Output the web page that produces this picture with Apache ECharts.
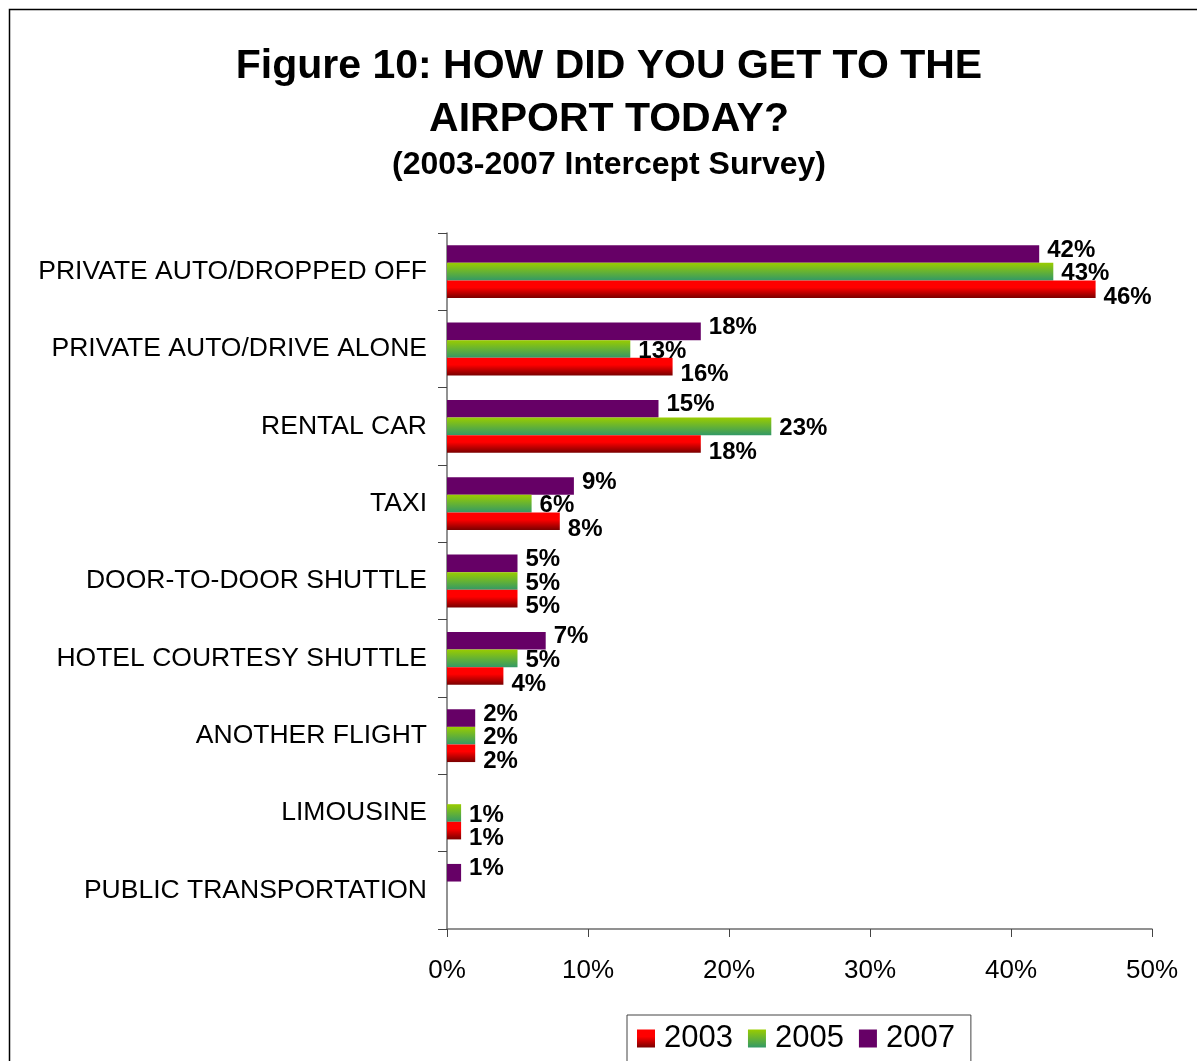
<!DOCTYPE html>
<html>
<head>
<meta charset="utf-8">
<title>How did you get to the airport today?</title>
<script src="https://cdn.jsdelivr.net/npm/echarts@6/dist/echarts.min.js"></script>
<style>
  html, body { margin: 0; padding: 0; background: #fff; }
  #chart { width: 1197px; height: 1061px; }
</style>
</head>
<body>
<div id="chart"></div>
<script>
// Survey answers, top to bottom
const categories = [
  'PRIVATE AUTO/DROPPED OFF',
  'PRIVATE AUTO/DRIVE ALONE',
  'RENTAL CAR',
  'TAXI',
  'DOOR-TO-DOOR SHUTTLE',
  'HOTEL COURTESY SHUTTLE',
  'ANOTHER FLIGHT',
  'LIMOUSINE',
  'PUBLIC TRANSPORTATION'
];

// Share of respondents (%) per survey year; null = no response recorded
const years = ['2003', '2005', '2007'];
const values2003 = [46, 16, 18, 8, 5, 4, 2, 1, null];
const values2005 = [43, 13, 23, 6, 5, 5, 2, 1, null];
const values2007 = [42, 18, 15, 9, 5, 7, 2, null, 1];

// Value axis
const axisMin = 0;
const axisMax = 50;
const axisStep = 10;

const FONT = '"Liberation Sans", Arial, Helvetica, sans-serif';

const barStyles = {
  '2003': new echarts.graphic.LinearGradient(0, 0, 0, 1, [
    { offset: 0, color: '#ff0000' },
    { offset: 0.4, color: '#ff0000' },
    { offset: 1, color: '#7a0000' }
  ]),
  '2005': new echarts.graphic.LinearGradient(0, 0, 0, 1, [
    { offset: 0, color: '#99cc00' },
    { offset: 1, color: '#339966' }
  ]),
  '2007': '#660066'
};

const labelOffsets = { '2003': [0, 8], '2005': [0, 2], '2007': [0, -4] };

function makeSeries(name, data) {
  return {
    name: name,
    type: 'bar',
    data: data,
    barWidth: 17.6,
    barGap: '0%',
    itemStyle: { color: barStyles[name] },
    label: {
      show: true,
      position: 'right',
      distance: 8,
      offset: labelOffsets[name],
      formatter: p => p.value == null ? '' : p.value + '%',
      fontFamily: FONT,
      fontWeight: 'bold',
      fontSize: 24,
      color: '#000'
    },
    emphasis: { disabled: true },
    animation: false
  };
}

const chart = echarts.init(document.getElementById('chart'), null, { renderer: 'canvas' });

chart.setOption({
  backgroundColor: '#fff',
  animation: false,
  title: [
    {
      text: 'Figure 10: HOW DID YOU GET TO THE\nAIRPORT TODAY?',
      left: 604,
      top: 35,
      textAlign: 'center',
      textStyle: {
        fontFamily: FONT,
        fontWeight: 'bold',
        fontSize: 41,
        lineHeight: 53,
        color: '#000'
      }
    },
    {
      text: '(2003-2007 Intercept Survey)',
      left: 604,
      top: 143,
      textAlign: 'center',
      textStyle: {
        fontFamily: FONT,
        fontWeight: 'bold',
        fontSize: 32,
        lineHeight: 34,
        color: '#000'
      }
    }
  ],
  legend: {
    data: years,
    left: 627,
    top: 1015,
    orient: 'horizontal',
    icon: 'rect',
    itemWidth: 18,
    itemHeight: 18,
    itemGap: 15,
    padding: [8, 16, 10, 10],
    borderColor: '#444',
    borderWidth: 1,
    selectedMode: false,
    textStyle: {
      fontFamily: FONT,
      fontSize: 31,
      color: '#000',
      padding: [0, 0, 0, 4]
    }
  },
  grid: {
    left: 447,
    right: 45,
    top: 233,
    bottom: 132,
    containLabel: false
  },
  xAxis: {
    type: 'value',
    min: axisMin,
    max: axisMax,
    interval: axisStep,
    axisLine: { show: true, lineStyle: { color: '#6e6e6e', width: 1.5 } },
    axisTick: { show: true, length: 8, lineStyle: { color: '#444' } },
    splitLine: { show: false },
    axisLabel: {
      formatter: '{value}%',
      fontFamily: FONT,
      fontSize: 26,
      color: '#000',
      margin: 29
    }
  },
  yAxis: {
    type: 'category',
    data: categories,
    inverse: true,
    axisLine: { show: true, lineStyle: { color: '#6e6e6e', width: 1.5 } },
    axisTick: { show: true, length: 9, alignWithLabel: false, lineStyle: { color: '#444' } },
    axisLabel: {
      fontFamily: FONT,
      fontSize: 26.5,
      color: '#000',
      margin: 20
    }
  },
  graphic: [
    {
      type: 'rect',
      shape: { x: 9.5, y: 9.5, width: 1250, height: 1150 },
      style: { fill: null, stroke: '#000', lineWidth: 1.5 },
      silent: true,
      z: 100
    }
  ],
  // 2007 listed first so it sits on top of each group on the inverted axis
  series: [
    makeSeries('2007', values2007),
    makeSeries('2005', values2005),
    makeSeries('2003', values2003)
  ]
});
</script>
</body>
</html>
